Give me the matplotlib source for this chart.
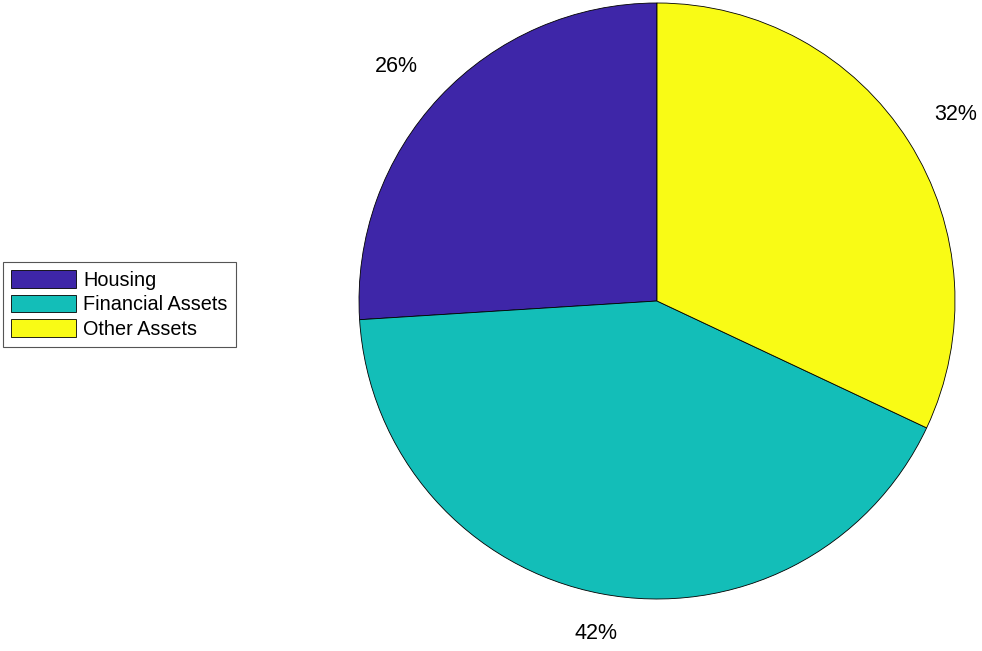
import numpy as np
import matplotlib.pyplot as plt

plt.rcParams['font.family'] = ['Liberation Sans', 'DejaVu Sans']

labels = ['Housing', 'Financial Assets', 'Other Assets']
shares = [26, 42, 32]
colors = ['#3E26A8', '#13BEB8', '#F9FB15']

W, H = 982, 651
cx, cy, r = 657, 301, 298

fig = plt.figure(figsize=(W / 100, H / 100), dpi=100)
ax = fig.add_axes([(cx - r) / W, (H - cy - r) / H, 2 * r / W, 2 * r / H])

# MATLAB style: start at top, go counter-clockwise
wedges, _ = ax.pie(shares, colors=colors, startangle=90, counterclock=True,
                   wedgeprops=dict(edgecolor='black', linewidth=0.6))
ax.set_xlim(-1, 1)
ax.set_ylim(-1, 1)
ax.axis('off')

total = float(sum(shares))
start = 90.0
for val in shares:
    span = 360.0 * val / total
    mid = np.deg2rad(start + span / 2)
    start += span
    x, y = 1.1 * np.cos(mid), 1.1 * np.sin(mid)
    if abs(x) < 0.25:
        ha = 'center'
    else:
        ha = 'left' if x > 0 else 'right'
    va = 'bottom' if y > 0 else 'top'
    ax.text(x, y, '%d%%' % round(100 * val / total), ha=ha, va=va, fontsize=15.5)

lgd = fig.legend(wedges, labels, loc='upper left',
                 bbox_to_anchor=(3 / W, 1 - 262 / H), fontsize=14.3,
                 handlelength=3.3, handleheight=1.0, handletextpad=0.35,
                 labelspacing=0.25, borderpad=0.4, borderaxespad=0,
                 fancybox=False, framealpha=1, edgecolor='#555555')
lgd.get_frame().set_linewidth(0.8)

fig.savefig('out.png', dpi=100)
